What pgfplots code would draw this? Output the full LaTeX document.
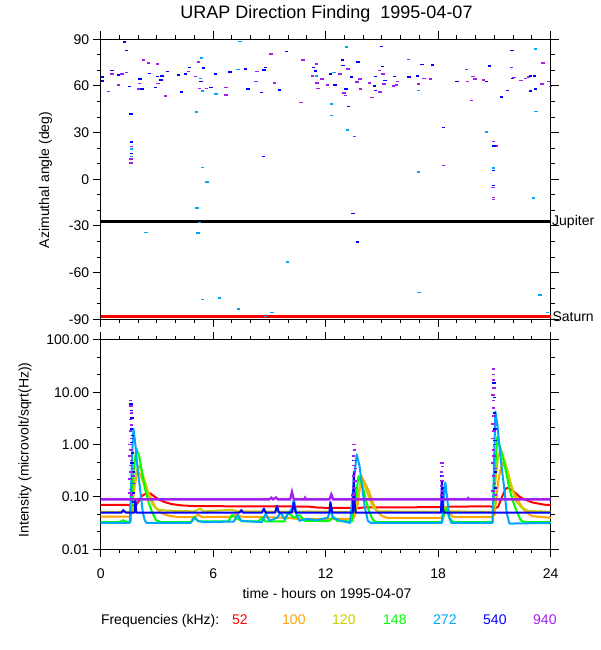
\documentclass[border=0pt]{standalone}
\usepackage{fontspec}
\setmainfont{Liberation Sans}
\usepackage{pgfplots}
\pgfplotsset{compat=1.18}
\definecolor{c52}{RGB}{255,0,0}
\definecolor{c100}{RGB}{255,165,0}
\definecolor{c120}{RGB}{204,204,0}
\definecolor{c148}{RGB}{0,255,0}
\definecolor{c272}{RGB}{0,165,255}
\definecolor{c540}{RGB}{0,0,255}
\definecolor{c940}{RGB}{160,32,240}
\pgfplotsset{
  urap/.style={
    scale only axis, width=450pt, xmin=0, xmax=24,
    axis line style={line width=1pt}, tick style={line width=1pt, black},
    tick align=outside, major tick length=8pt, minor tick length=4pt,
    xtick={0,6,12,18,24}, minor x tick num=5,
    tick label style={font=\fontsize{14}{16}\selectfont},
    clip=false,
  },
  dots/.style={only marks, mark=-, mark size=1.7pt, mark options={line width=1.6pt}},
  crv/.style={line width=2pt, line join=round},
}
\begin{document}
\begin{tikzpicture}
\useasboundingbox (0pt,0pt) rectangle (600pt,650pt);
% ---------------- top panel ----------------
\begin{axis}[urap, at={(100.7pt,330.7pt)}, anchor=south west, height=280pt,
  ymin=-90, ymax=90, ytick={-90,-60,-30,0,30,60,90}, minor y tick num=2,
  yticklabels={-90,-60,-30,0,30,60,90}, xticklabels={}]
\addplot[black, line width=3pt] coordinates {(0,-27)(24,-27)};
\addplot[c52, line width=3.3pt] coordinates {(0,-88.3)(24,-88.3)};
\addplot[dots, color=c940] coordinates {
(0.43,56.4)(0.61,67.7)(0.94,60.6)(1.14,67.7)(1.39,68.6)(1.63,21)(1.61,12.9)(1.61,10.3)(2.0,57.9)(2.08,61.7)(2.29,76.7)(2.55,74.6)(3.02,74.1)(3.06,61.7)(3.47,53.6)(4.69,69.4)(5.06,66)(5.22,75.6)(5.27,58.5)(5.63,58.5)(6.69,54.2)(6.69,59.1)(8.29,62.8)(8.33,69.2)(9.08,80.4)(9.27,62.1)(10.78,76.7)(10.69,49.3)(11.29,66.6)(11.51,74.1)(11.53,62.1)(11.59,58.5)(11.8,64.5)(12.1,60.6)(12.76,67.7)(12.98,55.3)(13.06,53.8)(13.18,70.9)(13.53,27.4)(13.67,62.4)(13.82,64.5)(13.86,57.9)(14.33,62.1)(14.47,52.7)(14.86,69.9)(14.9,56.1)(15.06,67.7)(15.1,61.3)(15.63,60)(15.78,60.6)(15.82,62.8)(16.43,77.1)(16.96,61.1)(17.24,64.9)(17.59,64.3)(18.29,8.8)(19.51,70.7)(19.55,62.8)(19.76,50.6)(19.86,66)(19.96,64.5)(20.41,63.9)(20.94,24.2)(21.08,21.4)(20.92,-5.4)(20.94,-11.6)(20.94,-12.9)(21.9,72)(22.04,65.4)(22.41,63.4)(22.65,64.9)(22.82,65.6)(23.53,61.1)(23.59,74.6)(23.88,62.8)(23.98,59.6)};
\addplot[dots, color=c540] coordinates {
(0.08,63.2)(0.08,65.6)(0.61,69.9)(0.94,67.1)(1.27,88.1)(1.37,82.7)(1.55,59.6)(1.61,41.8)(1.63,23.8)(1.63,16.7)(2.1,64.3)(2.2,57.9)(2.61,68.1)(2.92,59.1)(3.02,66)(3.22,63.9)(3.27,66.4)(3.57,69.2)(4.16,66.9)(4.31,56.1)(4.53,67.7)(4.73,72)(5.35,62.8)(5.47,71.4)(5.88,58.9)(6.12,67.7)(6.9,69)(7.71,71.1)(7.86,58.1)(8.57,55.9)(8.67,14.6)(8.71,70.3)(8.8,72)(9.55,57.4)(9.92,82.1)(11.35,71.8)(11.47,69.6)(12.24,67.7)(12.49,60.6)(12.88,76.7)(12.92,73.1)(13.08,58.1)(13.22,46.7)(13.37,65.6)(13.45,-21.9)(13.71,-40.3)(13.73,75.6)(14.59,60)(14.65,57)(14.65,66)(14.96,85.3)(15.02,72.4)(15.16,63.4)(15.67,66)(16.45,65.6)(16.9,66.4)(17.14,73.9)(17.71,73.3)(18.27,33.2)(19,62.8)(20.57,62.8)(20.73,72.9)(20.98,21.6)(20.94,5.6)(20.94,-4.1)(21.39,53.1)(21.69,57)(21.94,82.7)(21.96,64.9)(22.92,66.4)(22.92,56.8)(23.12,66.6)(23.18,57.9)};
\addplot[dots, color=c272] coordinates {
(1.65,19.3)(1.65,14.6)(2.41,-34.3)(5.1,43.3)(5.14,-18.6)(5.18,-34.7)(5.27,-27.9)(5.31,64.9)(5.39,77.8)(5.43,56.8)(5.43,7.5)(5.43,-77.2)(5.67,-1.9)(6.14,54.9)(6.33,-76.3)(7.33,70.7)(7.43,88.5)(7.35,-83.2)(8.78,-88.1)(9.14,-85.7)(9.96,-53.2)(11.51,66.6)(12.31,48.4)(12.31,40.9)(12.45,68.6)(13.12,84.9)(13.16,31.7)(16.94,57)(16.94,4.5)(16.98,-72.7)(20.57,30.4)(20.94,7.1)(23.18,83.8)(23.22,43.5)(23.08,-12)(23.43,-74.4)(23.84,-85.7)};
\node[anchor=west, inner sep=0pt, font=\fontsize{14}{16}\selectfont] at (axis cs:24,-27.6) {\hspace{1.3pt}Jupiter};
\node[anchor=west, inner sep=0pt, font=\fontsize{14}{16}\selectfont] at (axis cs:24,-88.3) {\hspace{1.6pt}Saturn};
\end{axis}
% ---------------- bottom panel ----------------
\begin{axis}[urap, at={(100.7pt,100.7pt)}, anchor=south west, height=209.3pt,
  ymode=log, ymin=0.01, ymax=100,
  ytick={0.01,0.1,1,10,100}, yticklabels={0.01,0.10,1.00,10.00,100.00},
  minor ytick={0.02154,0.04642,0.2154,0.4642,2.154,4.642,21.54,46.42},
  xticklabels={0,6,12,18,24}, xticklabel style={yshift=-8pt}]
\addplot[crv, c52] coordinates {
(0,0.071)(1.0,0.071)(1.6,0.07)(1.85,0.068)(2.0,0.08)(2.2,0.105)(2.45,0.118)(2.65,0.117)(2.9,0.1)(3.1,0.09)(3.4,0.08)(3.8,0.073)(4.3,0.069)(5,0.067)(8,0.066)(10,0.066)(11.2,0.065)(11.5,0.063)(12,0.062)(13.4,0.062)(13.6,0.06)(14,0.063)(15,0.063)(18,0.064)(18.3,0.063)(18.5,0.065)(20,0.066)(20.8,0.066)(21.0,0.06)(21.2,0.065)(21.4,0.1)(21.6,0.145)(21.75,0.15)(22.0,0.13)(22.35,0.1)(22.6,0.09)(23.0,0.079)(23.4,0.074)(23.7,0.071)(24,0.07)};
\addplot[crv, c100] coordinates {
(0,0.042)(1.55,0.042)(1.65,0.05)(1.8,0.15)(1.95,0.3)(2.1,0.28)(2.25,0.2)(2.45,0.135)(2.65,0.1)(2.9,0.065)(3.2,0.05)(3.6,0.044)(4.2,0.041)(5.0,0.041)(5.2,0.046)(5.4,0.041)(7,0.042)(7.2,0.047)(7.5,0.042)(10,0.04)(10.5,0.038)(13.3,0.038)(13.5,0.04)(13.7,0.07)(13.9,0.25)(14.05,0.2)(14.3,0.13)(14.5,0.08)(14.7,0.055)(15.0,0.043)(15.3,0.04)(18.2,0.04)(18.4,0.055)(18.6,0.05)(18.8,0.041)(20.8,0.041)(21.0,0.045)(21.2,0.2)(21.4,0.45)(21.6,0.35)(21.8,0.2)(22.0,0.13)(22.3,0.08)(22.6,0.055)(23.0,0.043)(24,0.04)};
\addplot[crv, c120] coordinates {
(0,0.052)(1.55,0.052)(1.7,0.1)(1.9,0.3)(2.05,0.4)(2.2,0.3)(2.4,0.18)(2.6,0.1)(2.8,0.07)(3.0,0.058)(3.5,0.055)(5,0.053)(5.3,0.06)(5.5,0.053)(7.0,0.057)(7.3,0.053)(13.5,0.052)(13.7,0.1)(13.9,0.22)(14.1,0.16)(14.3,0.1)(14.5,0.065)(14.8,0.053)(18.2,0.052)(18.4,0.065)(18.6,0.053)(20.9,0.052)(21.05,0.2)(21.2,0.6)(21.35,0.8)(21.5,0.55)(21.7,0.32)(21.9,0.17)(22.1,0.09)(22.4,0.065)(22.8,0.054)(24,0.052)};
\addplot[crv, c148] coordinates {
(0,0.033)(1.0,0.033)(1.2,0.036)(1.4,0.033)(1.6,0.034)(1.75,0.3)(1.9,0.85)(2.05,0.6)(2.2,0.3)(2.35,0.15)(2.55,0.08)(2.75,0.05)(2.95,0.036)(3.2,0.033)(4.8,0.033)(5.0,0.042)(5.2,0.034)(6.8,0.034)(7.0,0.045)(7.3,0.038)(7.6,0.034)(8.4,0.034)(8.6,0.04)(8.8,0.034)(9.8,0.034)(10.0,0.05)(10.3,0.04)(10.6,0.045)(10.9,0.035)(12.2,0.035)(12.4,0.042)(12.6,0.035)(13.4,0.034)(13.6,0.1)(13.75,0.25)(13.9,0.2)(14.1,0.1)(14.3,0.055)(14.5,0.037)(14.7,0.033)(18.2,0.033)(18.4,0.06)(18.6,0.04)(18.8,0.033)(20.9,0.033)(21.05,0.4)(21.15,1.4)(21.3,0.9)(21.55,0.4)(21.8,0.14)(22.0,0.08)(22.2,0.052)(22.4,0.036)(22.6,0.033)(24,0.033)};
\addplot[crv, c272] coordinates {
(0,0.032)(1.55,0.032)(1.6,0.1)(1.7,1.0)(1.75,2.0)(1.85,1.0)(1.95,0.4)(2.05,0.2)(2.15,0.1)(2.25,0.05)(2.35,0.036)(2.45,0.032)(4.8,0.032)(5.0,0.04)(5.2,0.035)(5.5,0.033)(7.1,0.034)(7.3,0.045)(7.5,0.035)(8.6,0.033)(8.8,0.048)(9.0,0.035)(9.4,0.04)(9.6,0.05)(9.8,0.038)(10.2,0.06)(10.3,0.09)(10.45,0.045)(10.6,0.035)(11.0,0.038)(11.5,0.036)(12.1,0.04)(12.25,0.055)(12.4,0.04)(12.8,0.035)(13.3,0.032)(13.5,0.2)(13.65,0.65)(13.8,0.4)(13.95,0.15)(14.1,0.06)(14.25,0.035)(14.4,0.032)(18.2,0.032)(18.3,0.1)(18.38,0.19)(18.5,0.08)(18.6,0.04)(18.7,0.032)(20.9,0.032)(20.98,0.5)(21.05,4.3)(21.15,2.5)(21.3,0.7)(21.4,0.33)(21.55,0.12)(21.65,0.05)(21.8,0.031)(24,0.032)};
\addplot[crv, c540] coordinates {
(0,0.05)(1.1,0.05)(1.2,0.056)(1.35,0.05)(1.55,0.05)(1.8,0.05)(1.85,0.09)(1.9,0.05)(7.4,0.05)(7.5,0.056)(7.6,0.05)(8.6,0.05)(8.7,0.06)(8.8,0.05)(9.3,0.05)(9.4,0.068)(9.5,0.05)(10.2,0.05)(10.3,0.078)(10.4,0.05)(12.2,0.05)(12.25,0.08)(12.35,0.05)(13.45,0.05)(13.5,0.3)(13.55,0.07)(13.6,0.05)(18.15,0.05)(18.2,0.2)(18.25,0.06)(18.3,0.05)(20.9,0.05)(21.1,0.05)(21.2,0.05)(24,0.05)};
\addplot[dots, color=c540] coordinates {
(1.62,6.0)(1.64,4.5)(1.66,3.2)(1.63,2.0)(1.68,1.5)(1.65,1.1)(1.70,0.7)(1.67,0.45)(1.72,0.3)(1.74,0.18)(1.76,0.12)(1.78,0.08)
(13.5,0.5)(13.52,0.3)(13.48,0.15)(18.2,0.25)(18.22,0.15)
(20.98,15)(21.0,8)(20.99,4)(21.02,2)(21.03,1.2)(21.01,0.6)(21.05,0.3)(21.04,0.15)};
\addplot[c940, line width=2.3pt] coordinates {
(0,0.09)(9.0,0.09)(9.1,0.097)(9.2,0.09)(9.35,0.098)(9.45,0.09)(10.1,0.09)(10.2,0.125)(10.3,0.09)(10.85,0.09)(10.9,0.097)(10.95,0.09)(12.2,0.09)(12.3,0.112)(12.4,0.09)(19.55,0.09)(19.6,0.095)(19.65,0.09)(24,0.09)};
\addplot[dots, color=c940] coordinates {
(1.60,7.0)(1.62,5.5)(1.63,4.0)(1.58,3.0)(1.64,2.4)(1.60,1.8)(1.66,1.3)(1.57,1.0)(1.62,0.8)(1.55,0.6)(1.65,0.5)(1.58,0.4)(1.62,0.3)(1.56,0.22)(1.68,0.18)(1.60,0.14)(1.63,0.11)(1.70,0.35)(1.72,0.25)(1.54,0.12)
(13.50,1.0)(13.52,0.8)(13.48,0.6)(13.55,0.5)(13.50,0.4)(13.53,0.3)(13.47,0.25)(13.56,0.2)(13.5,0.15)(13.52,0.12)(13.45,0.11)(13.58,0.35)
(18.2,0.45)(18.22,0.38)(18.19,0.3)(18.23,0.25)(18.2,0.2)(18.18,0.16)(18.24,0.13)(18.21,0.11)
(20.95,28)(20.96,22)(20.94,17)(20.97,12)(20.93,9)(20.96,7)(20.95,5)(20.98,3.5)(20.93,2.5)(20.97,1.8)(20.92,1.3)(21.0,1.0)(20.95,0.8)(20.98,0.6)(20.9,0.45)(21.02,0.35)(20.94,0.25)(21.0,0.18)(20.92,0.13)(21.04,0.11)};
\end{axis}
% ---------------- texts ----------------
\node[font=\fontsize{18}{20}\selectfont] at (326.5pt,636pt) {URAP Direction Finding\ \ 1995-04-07};
\node[rotate=90, font=\fontsize{14}{16}\selectfont] at (45.5pt,470pt) {Azimuthal angle (deg)};
\node[rotate=90, font=\fontsize{14}{16}\selectfont] at (25pt,200pt) {Intensity (microvolt/sqrt(Hz))};
\node[font=\fontsize{14}{16}\selectfont] at (327pt,57pt) {time - hours on 1995-04-07};
\begin{scope}[every node/.style={anchor=base west, inner sep=0pt, font=\fontsize{14}{16}\selectfont}]
\node at (100.8pt,25pt) {Frequencies (kHz):};
\node[text=c52] at (232pt,25pt) {52};
\node[text=c100] at (282pt,25pt) {100};
\node[text=c120] at (332pt,25pt) {120};
\node[text=c148] at (383pt,25pt) {148};
\node[text=c272] at (433pt,25pt) {272};
\node[text=c540] at (483pt,25pt) {540};
\node[text=c940] at (533pt,25pt) {940};
\end{scope}
\end{tikzpicture}
\end{document}
